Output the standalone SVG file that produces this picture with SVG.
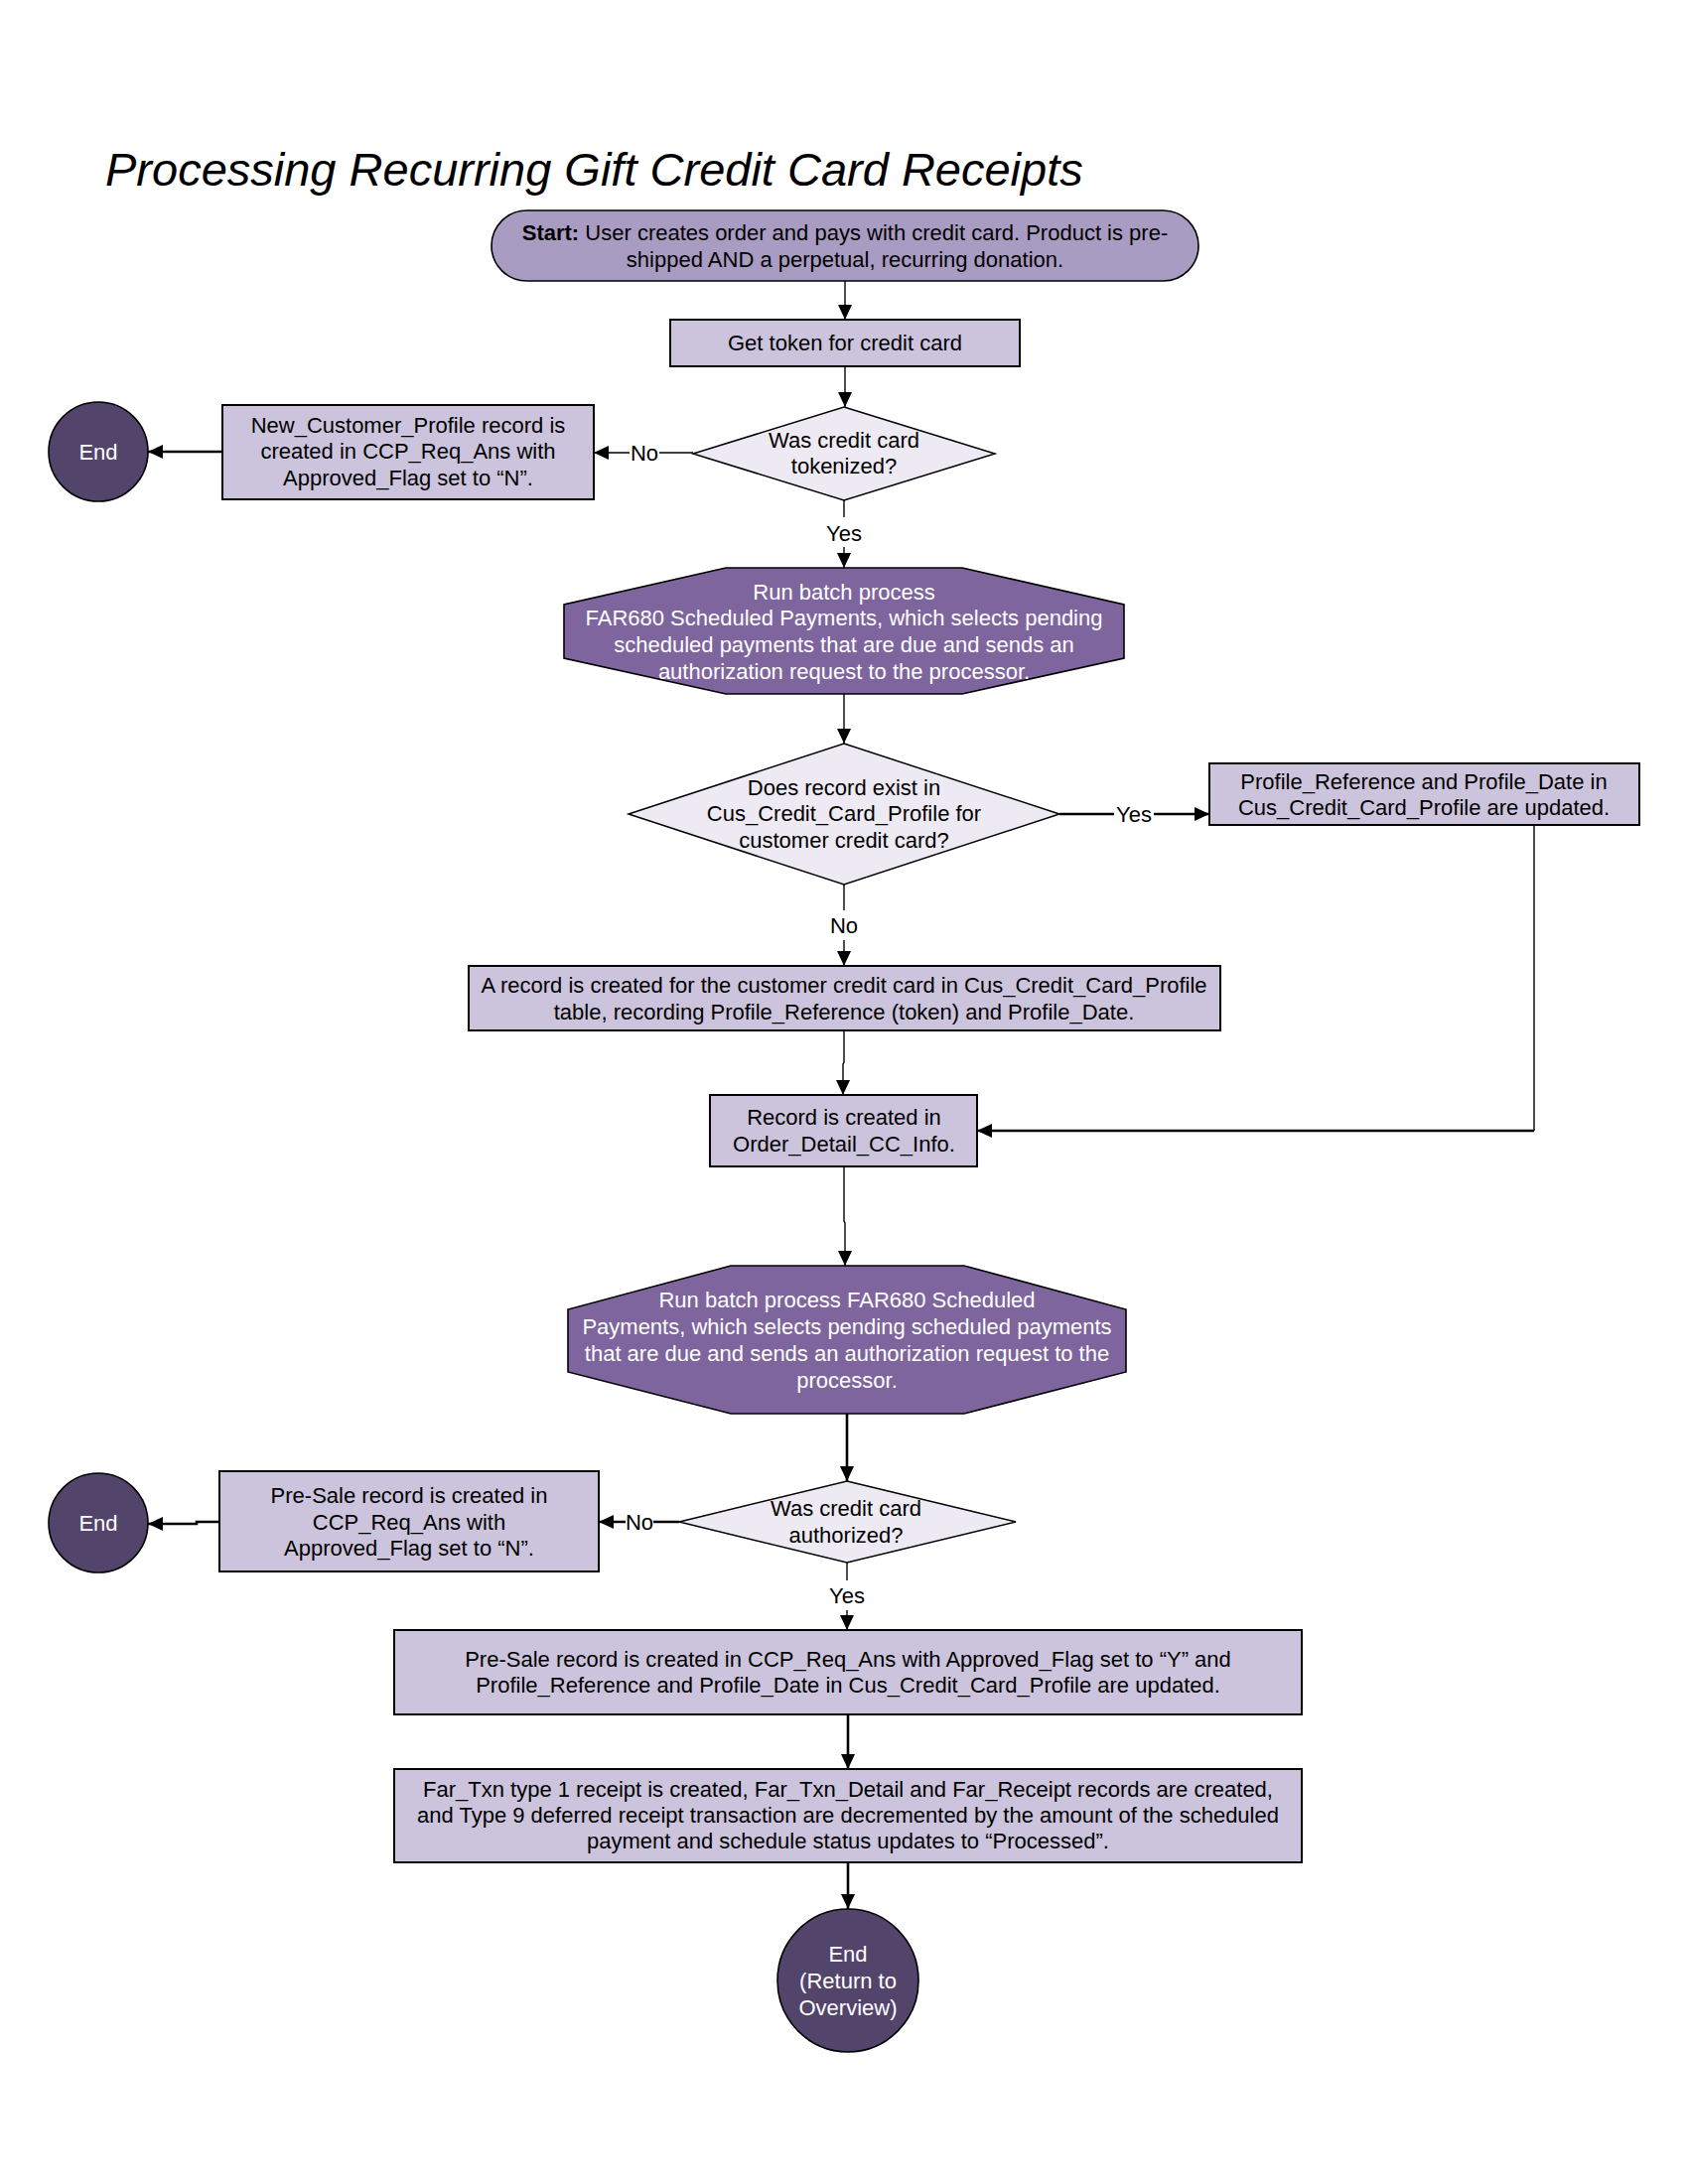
<svg xmlns="http://www.w3.org/2000/svg" width="1700" height="2200" viewBox="0 0 1700 2200">
<style>
text{font-family:"Liberation Sans",Arial,sans-serif;font-size:22px;fill:#000;text-anchor:middle}
.title{font-size:47px;font-style:italic;text-anchor:start}
.w{fill:#fff}
.start{fill:#A99CC2;stroke:#000;stroke-width:1.6}
.box{fill:#CCC4DD;stroke:#000;stroke-width:2}
.dec{fill:#EDEAF3;stroke:#000;stroke-width:1.5}
.oct{fill:#7E659D;stroke:#000;stroke-width:1.6}
.end{fill:#53446C;stroke:#000;stroke-width:1.6}
.c{fill:none;stroke:#000;stroke-width:1.4}
.t{fill:none;stroke:#000;stroke-width:2.6}
.lbl{fill:#fff;stroke:none}
</style>
<defs>
<marker id="a" markerUnits="userSpaceOnUse" markerWidth="16" markerHeight="14" refX="15" refY="7" orient="auto">
<path d="M0,0 L15,7 L0,14 z" fill="#000"/>
</marker>
</defs>
<rect width="1700" height="2200" fill="#fff"/>
<text class="title" x="106" y="187">Processing Recurring Gift Credit Card Receipts</text>

<g id="connectors">
<path class="c" d="M851,283 V322" marker-end="url(#a)"/>
<path class="c" d="M851,369 V410" marker-end="url(#a)"/>
<path class="c" d="M698,456 H598" marker-end="url(#a)"/>
<path class="t" d="M224,455 H149" marker-end="url(#a)"/>
<path class="c" d="M850,504 V572" marker-end="url(#a)"/>
<path class="c" d="M850,699 V749" marker-end="url(#a)"/>
<path class="t" d="M1067,820 H1218" marker-end="url(#a)"/>
<path class="c" d="M1545,831 V1139"/>
<path class="t" d="M1545,1139 H984" marker-end="url(#a)"/>
<path class="c" d="M850,891 V973" marker-end="url(#a)"/>
<path class="c" d="M850,1038 V1070 L849,1072 V1103" marker-end="url(#a)"/>
<path class="c" d="M850,1175 V1230 L851,1232 V1275" marker-end="url(#a)"/>
<path class="t" d="M853,1424 V1492" marker-end="url(#a)"/>
<path class="t" d="M684,1533 H603" marker-end="url(#a)"/>
<path class="t" d="M221,1533 H198 V1535 H149" marker-end="url(#a)"/>
<path class="c" d="M853,1574 V1642" marker-end="url(#a)"/>
<path class="t" d="M854,1727 V1782" marker-end="url(#a)"/>
<path class="t" d="M854,1876 V1923" marker-end="url(#a)"/>
<rect class="lbl" x="634" y="442" width="30" height="28"/>
<text x="649" y="464">No</text>
<rect class="lbl" x="830" y="521" width="42" height="30"/>
<text x="850" y="545">Yes</text>
<rect class="lbl" x="1122" y="806" width="40" height="28"/>
<text x="1142" y="828">Yes</text>
<rect class="lbl" x="833" y="917" width="34" height="30"/>
<text x="850" y="940">No</text>
<rect class="lbl" x="630" y="1520" width="28" height="27"/>
<text x="644" y="1541">No</text>
<rect class="lbl" x="833" y="1592" width="42" height="30"/>
<text x="853" y="1615">Yes</text>
</g>

<g id="start">
<rect class="start" x="495" y="212" width="712" height="71" rx="35.5"/>
<text x="851" y="242"><tspan font-weight="bold">Start:</tspan> User creates order and pays with credit card. Product is pre-</text>
<text x="851" y="269">shipped AND a perpetual, recurring donation.</text>
</g>

<g id="get-token">
<rect class="box" x="675" y="322" width="352" height="47"/>
<text x="851" y="353">Get token for credit card</text>
</g>

<g id="tokenized">
<polygon class="dec" points="850,410 1002,457 850,504 698,457"/>
<text x="850" y="451">Was credit card</text>
<text x="850" y="477">tokenized?</text>
</g>

<g id="new-customer-profile">
<rect class="box" x="224" y="408" width="374" height="95"/>
<text x="411" y="436">New_Customer_Profile record is</text>
<text x="411" y="462">created in CCP_Req_Ans with</text>
<text x="411" y="489">Approved_Flag set to “N”.</text>
</g>

<g id="end1">
<ellipse class="end" cx="99" cy="455" rx="50" ry="50"/>
<text class="w" x="99" y="463">End</text>
</g>

<g id="batch1">
<polygon class="oct" points="731,572 969,572 1132,609 1132,663 969,699 731,699 568,663 568,609"/>
<text class="w" x="850" y="604">Run batch process</text>
<text class="w" x="850" y="630">FAR680 Scheduled Payments, which selects pending</text>
<text class="w" x="850" y="657">scheduled payments that are due and sends an</text>
<text class="w" x="850" y="684">authorization request to the processor.</text>
</g>

<g id="record-exist">
<polygon class="dec" points="850,749 1067,820 850,891 633,820"/>
<text x="850" y="801">Does record exist in</text>
<text x="850" y="827">Cus_Credit_Card_Profile for</text>
<text x="850" y="854">customer credit card?</text>
</g>

<g id="profile-updated">
<rect class="box" x="1218" y="769" width="433" height="62"/>
<text x="1434" y="795">Profile_Reference and Profile_Date in</text>
<text x="1434" y="821">Cus_Credit_Card_Profile are updated.</text>
</g>

<g id="record-created">
<rect class="box" x="472" y="973" width="757" height="65"/>
<text x="850" y="1000">A record is created for the customer credit card in Cus_Credit_Card_Profile</text>
<text x="850" y="1027">table, recording Profile_Reference (token) and Profile_Date.</text>
</g>

<g id="order-detail">
<rect class="box" x="715" y="1103" width="269" height="72"/>
<text x="850" y="1133">Record is created in</text>
<text x="850" y="1160">Order_Detail_CC_Info.</text>
</g>

<g id="batch2">
<polygon class="oct" points="736,1275 971,1275 1134,1319 1134,1382 971,1424 736,1424 572,1382 572,1319"/>
<text class="w" x="853" y="1317">Run batch process FAR680 Scheduled</text>
<text class="w" x="853" y="1344">Payments, which selects pending scheduled payments</text>
<text class="w" x="853" y="1371">that are due and sends an authorization request to the</text>
<text class="w" x="853" y="1398">processor.</text>
</g>

<g id="authorized">
<polygon class="dec" points="853,1492 1023,1533 853,1574 684,1533"/>
<text x="852" y="1527">Was credit card</text>
<text x="852" y="1554">authorized?</text>
</g>

<g id="presale-n">
<rect class="box" x="221" y="1482" width="382" height="101"/>
<text x="412" y="1514">Pre-Sale record is created in</text>
<text x="412" y="1541">CCP_Req_Ans with</text>
<text x="412" y="1567">Approved_Flag set to “N”.</text>
</g>

<g id="end2">
<ellipse class="end" cx="99" cy="1534" rx="50" ry="50"/>
<text class="w" x="99" y="1542">End</text>
</g>

<g id="presale-y">
<rect class="box" x="397" y="1642" width="914" height="85"/>
<text x="854" y="1679">Pre-Sale record is created in CCP_Req_Ans with Approved_Flag set to “Y” and</text>
<text x="854" y="1705">Profile_Reference and Profile_Date in Cus_Credit_Card_Profile are updated.</text>
</g>

<g id="far-txn">
<rect class="box" x="397" y="1782" width="914" height="94"/>
<text x="854" y="1810">Far_Txn type 1 receipt is created, Far_Txn_Detail and Far_Receipt records are created,</text>
<text x="854" y="1836">and Type 9 deferred receipt transaction are decremented by the amount of the scheduled</text>
<text x="854" y="1862">payment and schedule status updates to “Processed”.</text>
</g>

<g id="end3">
<ellipse class="end" cx="854" cy="1995" rx="71" ry="72"/>
<text class="w" x="854" y="1976">End</text>
<text class="w" x="854" y="2003">(Return to</text>
<text class="w" x="854" y="2030">Overview)</text>
</g>
</svg>
